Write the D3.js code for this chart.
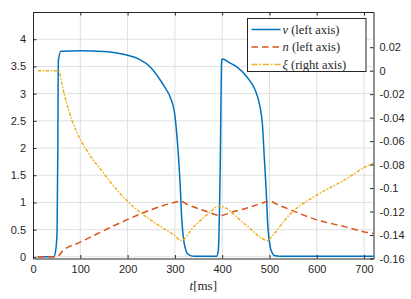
<!DOCTYPE html>
<html lang="en">
<head>
  <meta charset="UTF-8">
  <title>v, n and xi over time</title>
  <script src="https://d3js.org/d3.v7.min.js"></script>
  <style>
    body { margin: 0; background: #fff; }
    svg { display: block; }
  </style>
</head>
<body>
  <div id="chart"></div>
  <script>
    // traces: [t in ms, value]
    const vSeries = [[10,0],[44,0],[48.5,0.15],[51,0.5],[52.5,2],[53.5,3.6],[59,3.78],[100,3.79],[150,3.775],
      [200,3.705],[225,3.63],[248,3.49],[269,3.25],[280,3.1],[290,2.94],[300,2.6],[305,2.15],[308,1.8],
      [311,1.36],[314.6,0.68],[319.5,0.26],[324,0.1],[329,0.04],[340,0.01],[388,0.01],[392,0.13],
      [395.7,1.54],[399,3.61],[400.6,3.635],[415,3.57],[431,3.49],[452,3.31],[470,3.06],[480,2.76],
      [485,2.45],[489,1.84],[493,1.23],[496.6,0.56],[501.5,0.19],[506,0.07],[512,0.02],[530,0.01],[720,0.01]];
    const nSeries = [[10,0],[50,0],[64,0.12],[100,0.27],[142,0.45],[198,0.68],[254,0.88],[290,0.98],
      [312,1.02],[330,0.95],[367,0.835],[395,0.76],[420,0.82],[450,0.89],[475,0.96],[500,1.02],
      [520,0.95],[544,0.866],[600,0.68],[657,0.56],[706,0.45],[720,0.43]];
    const xiSeries = [[10,0],[54,0],[57,-0.003],[62,-0.013],[68,-0.023],[75,-0.033],[83,-0.043],[92,-0.052],
      [102,-0.060],[114,-0.068],[128,-0.0765],[142,-0.0836],[170,-0.098],[198,-0.1105],[223,-0.1195],
      [254,-0.1285],[280,-0.1355],[300,-0.1405],[313,-0.1446],[340,-0.133],[367,-0.123],[395,-0.1154],
      [446,-0.130],[497,-0.1446],[501,-0.143],[544,-0.122],[600,-0.106],[657,-0.0935],[713,-0.080],[720,-0.079]];

    const xTicks = [0, 100, 200, 300, 400, 500, 600, 700];
    const leftTicks = [0, 0.5, 1, 1.5, 2, 2.5, 3, 3.5, 4];
    const rightTicks = [-0.16, -0.14, -0.12, -0.1, -0.08, -0.06, -0.04, -0.02, 0, 0.02];

    const legendItems = [
      { sym: "v", rest: " (left axis)", color: "#0072BD", dash: null },
      { sym: "n", rest: " (left axis)", color: "#D95319", dash: "6.5,4" },
      { sym: "\u03BE", rest: " (right axis)", color: "#EDB120", dash: "6,2,1.5,2" }
    ];

    const width = 411, height = 299;
    const mLeft = 33, mRight = 373.5, mTop = 12, mBottom = 258.5;
    const axisColor = "#262626", gridColor = "#e0e0e0";

    const x = d3.scaleLinear().domain([0, 720]).range([mLeft, mRight]);
    const yL = d3.scaleLinear().domain([-0.03, 4.5]).range([mBottom, mTop]);
    const yR = d3.scaleLinear().domain([-0.16, 0.05]).range([mBottom, mTop]);

    const svg = d3.select("#chart").append("svg")
      .attr("width", width).attr("height", height)
      .style("font-family", "'Liberation Sans', Arial, sans-serif");

    svg.append("defs").append("clipPath").attr("id", "plot-clip")
      .append("rect").attr("x", mLeft).attr("y", mTop)
      .attr("width", mRight - mLeft).attr("height", mBottom - mTop);

    // grid
    const grid = svg.append("g").attr("stroke", gridColor).attr("stroke-width", 1);
    grid.selectAll(".gx").data(xTicks.slice(1)).join("line")
      .attr("x1", d => x(d)).attr("x2", d => x(d)).attr("y1", mTop).attr("y2", mBottom);
    grid.selectAll(".gy").data(leftTicks).join("line")
      .attr("x1", mLeft).attr("x2", mRight).attr("y1", d => yL(d)).attr("y2", d => yL(d));

    // curves
    const plot = svg.append("g").attr("clip-path", "url(#plot-clip)").attr("fill", "none")
      .attr("stroke-width", 1.5);
    const lineL = d3.line().x(d => x(d[0])).y(d => yL(d[1])).curve(d3.curveMonotoneX);
    const lineR = d3.line().x(d => x(d[0])).y(d => yR(d[1])).curve(d3.curveMonotoneX);
    plot.append("path").attr("d", lineL(vSeries)).attr("stroke", "#0072BD");
    plot.append("path").attr("d", lineL(nSeries)).attr("stroke", "#D95319").attr("stroke-dasharray", "6.5,4");
    plot.append("path").attr("d", lineR(xiSeries)).attr("stroke", "#EDB120").attr("stroke-dasharray", "3.5,1.5,1.5,1.5");

    // axes (MATLAB style: ticks inward, box on)
    const tickLen = 3.5;
    const bottomAxis = d3.axisBottom(x).tickValues(xTicks).tickSizeInner(-tickLen).tickSizeOuter(0)
      .tickPadding(7).tickFormat(d3.format("d"));
    const topAxis = d3.axisTop(x).tickValues(xTicks).tickSizeInner(-tickLen).tickSizeOuter(0).tickFormat("");
    const leftAxis = d3.axisLeft(yL).tickValues(leftTicks).tickSizeInner(-tickLen).tickSizeOuter(0)
      .tickPadding(7).tickFormat(d => String(d));
    const rightAxis = d3.axisRight(yR).tickValues(rightTicks).tickSizeInner(-tickLen).tickSizeOuter(0)
      .tickPadding(6).tickFormat(d => String(+d.toFixed(2)));

    function styleAxis(g) {
      g.select(".domain").attr("stroke", axisColor).attr("stroke-width", 1);
      g.selectAll(".tick line").attr("stroke", axisColor);
      g.selectAll(".tick text").attr("fill", axisColor).style("font-size", "11px")
        .style("font-family", "'Liberation Sans', Arial, sans-serif");
    }
    svg.append("g").attr("transform", `translate(0,${mBottom})`).call(bottomAxis).call(styleAxis);
    svg.append("g").attr("transform", `translate(0,${mTop})`).call(topAxis).call(styleAxis);
    svg.append("g").attr("transform", `translate(${mLeft},0)`).call(leftAxis).call(styleAxis);
    svg.append("g").attr("transform", `translate(${mRight},0)`).call(rightAxis).call(styleAxis);

    // x label
    const xl = svg.append("text").attr("x", (mLeft + mRight) / 2).attr("y", 290)
      .attr("text-anchor", "middle").attr("fill", axisColor)
      .style("font-family", "'Liberation Serif', 'DejaVu Serif', serif").style("font-size", "13px");
    xl.append("tspan").style("font-style", "italic").text("t");
    xl.append("tspan").text("[ms]");

    // legend
    const lg = svg.append("g");
    lg.append("rect").attr("x", 247.5).attr("y", 18.5).attr("width", 118.5).attr("height", 53)
      .attr("fill", "#fff").attr("stroke", axisColor).attr("stroke-width", 1);
    const rowY = [29.5, 47, 64.5];
    legendItems.forEach((it, i) => {
      lg.append("line").attr("x1", 251.5).attr("x2", 280.5).attr("y1", rowY[i]).attr("y2", rowY[i])
        .attr("stroke", it.color).attr("stroke-width", 1.5).attr("stroke-dasharray", it.dash);
      const t = lg.append("text").attr("x", 282.5).attr("y", rowY[i] + 4).attr("fill", axisColor)
        .style("font-family", "'Liberation Serif', 'DejaVu Serif', serif").style("font-size", "12.5px");
      t.append("tspan").style("font-style", "italic").text(it.sym);
      t.append("tspan").text(it.rest);
    });
  </script>
</body>
</html>
